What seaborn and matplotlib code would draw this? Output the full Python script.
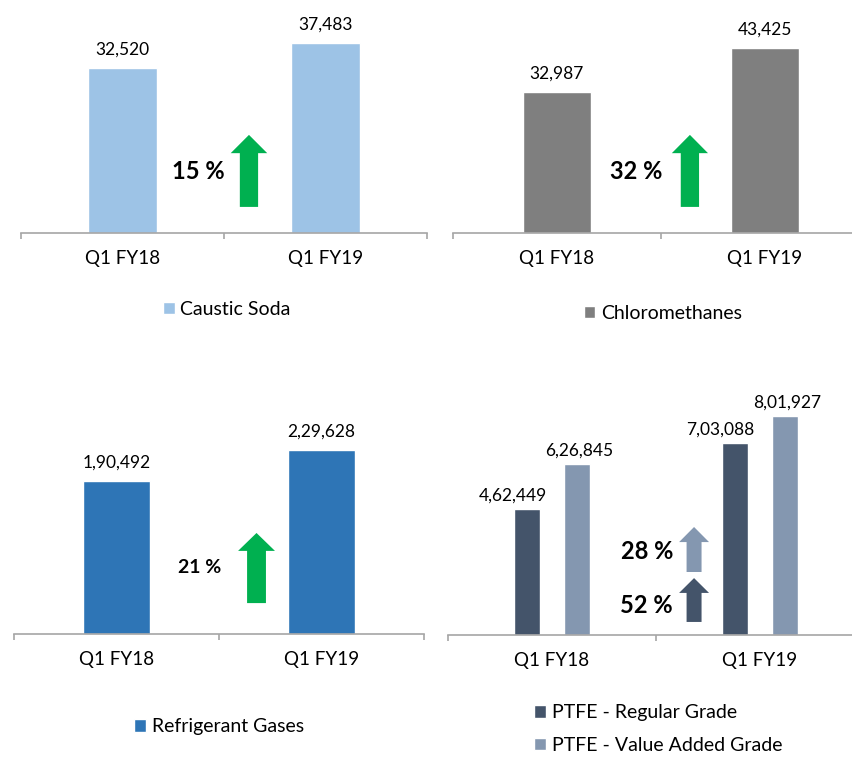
import pandas as pd
import matplotlib.pyplot as plt
import matplotlib.transforms as mtransforms
from matplotlib.patches import Polygon
import seaborn as sns

# data
periods = ['Q1 FY18', 'Q1 FY19']

caustic_soda = [32520, 37483]
chloromethanes = [32987, 43425]
refrigerant_gases = [190492, 229628]
ptfe_regular = [462449, 703088]
ptfe_value_added = [626845, 801927]
ptfe_grades = ['PTFE - Regular Grade', 'PTFE - Value Added Grade']

growth_caustic = '15 %'
growth_chloro = '32 %'
growth_refrig = '21 %'
growth_ptfe_regular = '52 %'
growth_ptfe_value = '28 %'

sns.set_theme(style='white')
plt.rcParams['font.family'] = ['Lato', 'DejaVu Sans']
plt.rcParams['text.color'] = 'black'

W, H = 852, 757
AXIS_GREY = '#a6a6a6'
GREEN = '#00b050'


def indian_fmt(n):
    s = str(n)
    if len(s) <= 3:
        return s
    last3, rest = s[-3:], s[:-3]
    groups = []
    while len(rest) > 2:
        groups.insert(0, rest[-2:])
        rest = rest[:-2]
    if rest:
        groups.insert(0, rest)
    return ','.join(groups + [last3])


def make_axes(fig, left, bottom, width, height):
    # pixel box (top-down y) -> figure fraction
    return fig.add_axes([left / W, 1 - bottom / H, width / W, height / H])


def style_axes(ax, ymax):
    ax.set_xlim(-0.5, 1.5)
    ax.set_ylim(0, ymax)
    for side in ['left', 'right', 'top']:
        ax.spines[side].set_visible(False)
    ax.spines['bottom'].set_color(AXIS_GREY)
    ax.spines['bottom'].set_linewidth(1.2)
    ax.set_yticks([])
    ax.set_xticks([-0.5, 0.5, 1.5], minor=True)
    ax.tick_params(axis='x', which='minor', length=4.5, width=1.2,
                   color=AXIS_GREY, direction='out', bottom=True)
    ax.tick_params(axis='x', which='major', length=0, pad=12,
                   labelsize=13.5, labelcolor='black')
    ax.set_xlabel('')
    ax.set_ylabel('')
    ax.grid(False)


def value_labels(ax, pad=7.5, xshift=None):
    for i, cont in enumerate(ax.containers):
        vals = [int(round(b.get_height())) for b in cont]
        texts = ax.bar_label(cont, labels=[indian_fmt(v) for v in vals],
                             padding=pad, fontsize=12.5, color='black')
        if xshift is not None:
            for t in texts:
                t.xyann = (xshift[i], t.xyann[1])


def up_arrow(ax, xc, y0, yhead, ytip, shaft_hw, head_hw, color):
    trans = mtransforms.blended_transform_factory(ax.transData, ax.transAxes)
    pts = [(xc - shaft_hw, y0), (xc + shaft_hw, y0), (xc + shaft_hw, yhead),
           (xc + head_hw, yhead), (xc, ytip), (xc - head_hw, yhead),
           (xc - shaft_hw, yhead)]
    ax.add_patch(Polygon(pts, closed=True, transform=trans, color=color,
                         lw=0, clip_on=False))


def growth_text(ax, x, y, text, size):
    trans = mtransforms.blended_transform_factory(ax.transData, ax.transAxes)
    ax.text(x, y, text, transform=trans, ha='right', va='center',
            fontsize=size, fontweight='bold', color='black')


fig = plt.figure(figsize=(W / 100, H / 100), dpi=100)

# Caustic Soda
ax1 = make_axes(fig, 21, 233, 406, 223)
sns.barplot(x=periods, y=caustic_soda, color='#9dc3e6', saturation=1,
            width=0.335, label='Caustic Soda', ax=ax1)
style_axes(ax1, max(caustic_soda) * 223 / 190)
value_labels(ax1)
up_arrow(ax1, 0.623, 0.117, 0.358, 0.44, 0.045, 0.09, GREEN)
growth_text(ax1, 0.505, 0.275, growth_caustic, 17)
ax1.legend(loc='center', bbox_to_anchor=(0.507, -0.341), frameon=False,
           fontsize=14, handlelength=0.6, handleheight=0.6,
           handletextpad=0.3, borderpad=0)

# Chloromethanes
ax2 = make_axes(fig, 453, 233, 416, 223)
sns.barplot(x=periods, y=chloromethanes, color='#7f7f7f', saturation=1,
            width=0.33, label='Chloromethanes', ax=ax2)
style_axes(ax2, max(chloromethanes) * 223 / 185)
value_labels(ax2)
up_arrow(ax2, 0.639, 0.117, 0.358, 0.44, 0.044, 0.087, GREEN)
growth_text(ax2, 0.505, 0.275, growth_chloro, 17)
ax2.legend(loc='center', bbox_to_anchor=(0.505, -0.359), frameon=False,
           fontsize=14, handlelength=0.6, handleheight=0.6,
           handletextpad=0.3, borderpad=0)

# Refrigerant Gases
ax3 = make_axes(fig, 14, 634, 410, 224)
sns.barplot(x=periods, y=refrigerant_gases, color='#2e75b6', saturation=1,
            width=0.33, label='Refrigerant Gases', ax=ax3)
style_axes(ax3, max(refrigerant_gases) * 224 / 184)
value_labels(ax3)
up_arrow(ax3, 0.683, 0.138, 0.371, 0.451, 0.046, 0.09, GREEN)
growth_text(ax3, 0.51, 0.295, growth_refrig, 14)
ax3.legend(loc='center', bbox_to_anchor=(0.5, -0.415), frameon=False,
           fontsize=14, handlelength=0.6, handleheight=0.6,
           handletextpad=0.3, borderpad=0)

# PTFE
ptfe = pd.DataFrame({
    'period': periods * 2,
    'grade': [ptfe_grades[0]] * 2 + [ptfe_grades[1]] * 2,
    'value': ptfe_regular + ptfe_value_added,
})
ptfe_colors = ['#44546a', '#8497b0']
ax4 = make_axes(fig, 448, 635, 416, 225)
sns.barplot(data=ptfe, x='period', y='value', hue='grade',
            palette=ptfe_colors, saturation=1, width=0.49, gap=0.49, ax=ax4)
style_axes(ax4, max(ptfe_value_added) * 225 / 219)
value_labels(ax4, pad=4, xshift=[-10, 1])
up_arrow(ax4, 0.683, 0.28, 0.413, 0.48, 0.036, 0.072, ptfe_colors[1])
up_arrow(ax4, 0.683, 0.058, 0.187, 0.253, 0.036, 0.072, ptfe_colors[0])
growth_text(ax4, 0.582, 0.369, growth_ptfe_value, 17)
growth_text(ax4, 0.582, 0.133, growth_ptfe_regular, 17)
sns.move_legend(ax4, 'center', bbox_to_anchor=(0.505, -0.418), frameon=False,
                title=None, fontsize=14, handlelength=0.6, handleheight=0.6,
                handletextpad=0.3, borderpad=0, labelspacing=0.8)

fig.savefig('out.png', dpi=100)
